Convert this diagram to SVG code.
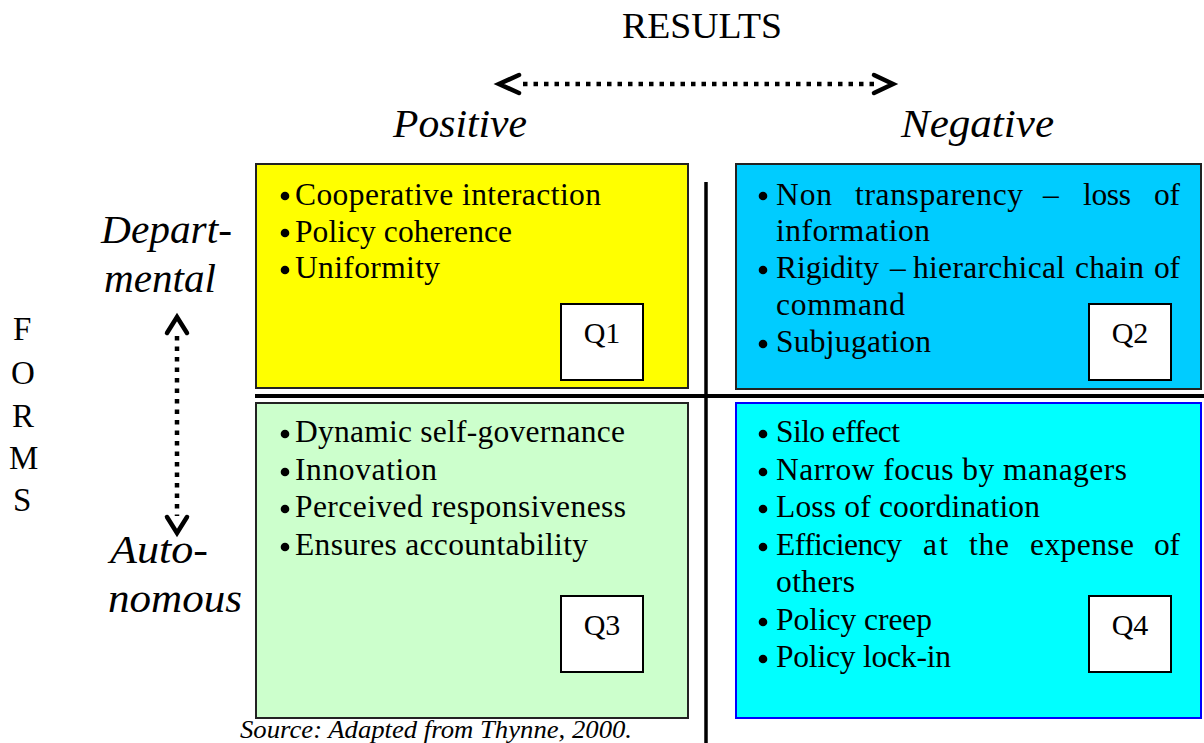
<svg xmlns="http://www.w3.org/2000/svg" width="1204" height="743" viewBox="0 0 1204 743">
  <style>
    .body { font-family: "Liberation Serif", "Times New Roman", serif; font-size: 31.5px; fill: #000; }
    .head { font-family: "Liberation Serif", "Times New Roman", serif; font-style: italic; font-size: 39px; fill: #000; }
    .title { font-family: "Liberation Serif", "Times New Roman", serif; font-size: 36px; fill: #000; }
    .axis { font-family: "Liberation Serif", "Times New Roman", serif; font-size: 33px; fill: #000; }
    .tag { font-family: "Liberation Serif", "Times New Roman", serif; font-size: 30px; fill: #000; text-anchor: middle; }
    .src { font-family: "Liberation Serif", "Times New Roman", serif; font-style: italic; font-size: 25px; fill: #000; }
    .quad { stroke: #222; stroke-width: 2; }
    .tagbox { fill: #fff; stroke: #000; stroke-width: 2; }
    .dots { stroke: #000; stroke-width: 4.5; stroke-dasharray: 4.5 6; fill: none; }
    .chev { stroke: #000; stroke-width: 4.5; fill: none; stroke-linecap: round; stroke-linejoin: miter; }
    .rule { stroke: #000; fill: none; }
  </style>

  <!-- headings -->
  <text class="title" x="622" y="38" textLength="160" lengthAdjust="spacingAndGlyphs">RESULTS</text>
  <text class="head" x="393" y="137" textLength="134" lengthAdjust="spacingAndGlyphs">Positive</text>
  <text class="head" x="901" y="137" textLength="153" lengthAdjust="spacingAndGlyphs">Negative</text>
  <text class="head" x="101" y="243" textLength="131" lengthAdjust="spacingAndGlyphs">Depart-</text>
  <text class="head" x="104" y="292" textLength="112" lengthAdjust="spacingAndGlyphs">mental</text>
  <text class="head" x="110" y="563" textLength="98" lengthAdjust="spacingAndGlyphs">Auto-</text>
  <text class="head" x="108" y="612" textLength="134" lengthAdjust="spacingAndGlyphs">nomous</text>

  <!-- vertical axis label -->
  <g id="forms-label">
    <text class="axis" x="13" y="340">F</text>
    <text class="axis" x="11" y="384">O</text>
    <text class="axis" x="12" y="427">R</text>
    <text class="axis" x="9" y="469">M</text>
    <text class="axis" x="13" y="511">S</text>
  </g>

  <!-- axis arrows and dividing rules -->
  <g id="connectors">
    <line class="dots" x1="523" y1="84" x2="874" y2="84"/>
    <polyline class="chev" points="519,75 499,84 519,93"/>
    <polyline class="chev" points="874,75 893,84 874,93"/>

    <line class="dots" x1="177" y1="336" x2="177" y2="516"/>
    <polyline class="chev" points="167,333 177,317 187,333"/>
    <polyline class="chev" points="167,517 177,533 187,517"/>

    <line class="rule" x1="706" y1="182" x2="706" y2="743" stroke-width="3.5"/>
    <line class="rule" x1="255" y1="396" x2="1204" y2="396" stroke-width="4"/>
  </g>

  <!-- Q1: positive / departmental -->
  <g id="q1">
    <rect class="quad" x="256" y="164" width="432" height="224" fill="#ffff00"/>
    <circle cx="285" cy="196" r="4.3"/>
    <text class="body" x="295" y="205" textLength="306" lengthAdjust="spacing">Cooperative interaction</text>
    <circle cx="285" cy="233" r="4.3"/>
    <text class="body" x="295" y="242" textLength="217" lengthAdjust="spacing">Policy coherence</text>
    <circle cx="285" cy="270" r="4.3"/>
    <text class="body" x="295" y="278" textLength="145" lengthAdjust="spacing">Uniformity</text>
    <rect class="tagbox" x="561" y="304" width="82" height="76"/>
    <text class="tag" x="602" y="343">Q1</text>
  </g>

  <!-- Q2: negative / departmental -->
  <g id="q2">
    <rect class="quad" x="736" y="164" width="465" height="225" fill="#00ccff"/>
    <circle cx="763" cy="196" r="4.3"/>
    <text class="body" x="776" y="205" textLength="56" lengthAdjust="spacing">Non</text>
    <text class="body" x="855" y="205" textLength="168" lengthAdjust="spacing">transparency</text>
    <text class="body" x="1043" y="205">–</text>
    <text class="body" x="1083" y="205" textLength="48" lengthAdjust="spacing">loss</text>
    <text class="body" x="1154" y="205" textLength="26" lengthAdjust="spacing">of</text>
    <text class="body" x="776" y="241" textLength="154" lengthAdjust="spacing">information</text>
    <circle cx="763" cy="270" r="4.3"/>
    <text class="body" x="776" y="278" textLength="103" lengthAdjust="spacing">Rigidity</text>
    <text class="body" x="890" y="278">–</text>
    <text class="body" x="913" y="278" textLength="152" lengthAdjust="spacing">hierarchical</text>
    <text class="body" x="1075" y="278" textLength="69" lengthAdjust="spacing">chain</text>
    <text class="body" x="1154" y="278" textLength="26" lengthAdjust="spacing">of</text>
    <text class="body" x="776" y="315" textLength="129" lengthAdjust="spacing">command</text>
    <circle cx="763" cy="344" r="4.3"/>
    <text class="body" x="776" y="352" textLength="155" lengthAdjust="spacing">Subjugation</text>
    <rect class="tagbox" x="1089" y="304" width="82" height="76"/>
    <text class="tag" x="1130" y="343">Q2</text>
  </g>

  <!-- Q3: positive / autonomous -->
  <g id="q3">
    <rect class="quad" x="256" y="403" width="432" height="315" fill="#ccffcc"/>
    <circle cx="285" cy="434" r="4.3"/>
    <text class="body" x="295" y="442" textLength="330" lengthAdjust="spacing">Dynamic self-governance</text>
    <circle cx="285" cy="472" r="4.3"/>
    <text class="body" x="295" y="480" textLength="142" lengthAdjust="spacing">Innovation</text>
    <circle cx="285" cy="509" r="4.3"/>
    <text class="body" x="295" y="517" textLength="331" lengthAdjust="spacing">Perceived responsiveness</text>
    <circle cx="285" cy="547" r="4.3"/>
    <text class="body" x="295" y="555" textLength="293" lengthAdjust="spacing">Ensures accountability</text>
    <rect class="tagbox" x="561" y="596" width="82" height="76"/>
    <text class="tag" x="602" y="635">Q3</text>
  </g>

  <!-- Q4: negative / autonomous -->
  <g id="q4">
    <rect x="736" y="403" width="465" height="315" fill="#00ffff" stroke="#0000ff" stroke-width="2"/>
    <circle cx="763" cy="434" r="4.3"/>
    <text class="body" x="776" y="442" textLength="124" lengthAdjust="spacing">Silo effect</text>
    <circle cx="763" cy="472" r="4.3"/>
    <text class="body" x="776" y="480" textLength="351" lengthAdjust="spacing">Narrow focus by managers</text>
    <circle cx="763" cy="509" r="4.3"/>
    <text class="body" x="776" y="517" textLength="264" lengthAdjust="spacing">Loss of coordination</text>
    <circle cx="763" cy="547" r="4.3"/>
    <text class="body" x="776" y="555" textLength="126" lengthAdjust="spacing">Efficiency</text>
    <text class="body" x="923" y="555" textLength="25" lengthAdjust="spacing">at</text>
    <text class="body" x="969" y="555" textLength="40" lengthAdjust="spacing">the</text>
    <text class="body" x="1030" y="555" textLength="104" lengthAdjust="spacing">expense</text>
    <text class="body" x="1154" y="555" textLength="26" lengthAdjust="spacing">of</text>
    <text class="body" x="776" y="592" textLength="79" lengthAdjust="spacing">others</text>
    <circle cx="763" cy="622" r="4.3"/>
    <text class="body" x="776" y="630" textLength="156" lengthAdjust="spacing">Policy creep</text>
    <circle cx="763" cy="659" r="4.3"/>
    <text class="body" x="776" y="667" textLength="175" lengthAdjust="spacing">Policy lock-in</text>
    <rect class="tagbox" x="1089" y="596" width="82" height="76"/>
    <text class="tag" x="1130" y="635">Q4</text>
  </g>

  <text class="src" x="240" y="738" textLength="392" lengthAdjust="spacingAndGlyphs">Source: Adapted from Thynne, 2000.</text>
</svg>
